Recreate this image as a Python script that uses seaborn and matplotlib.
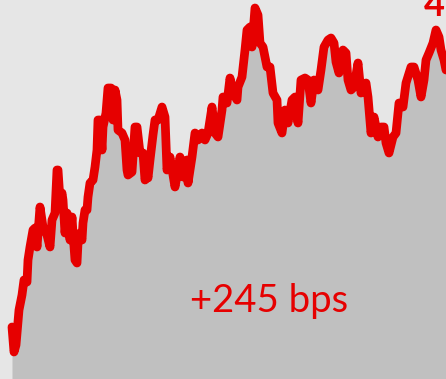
import numpy as np
import pandas as pd
import matplotlib
matplotlib.use("Agg")
import matplotlib.pyplot as plt
import seaborn as sns

# --- DATA ---
day = [12, 14, 16, 19, 22, 24, 27, 28, 30, 33, 35, 37, 40, 43, 47, 50, 52, 55, 57, 58,
       60, 62, 63, 65, 67, 68, 70, 72, 73, 75, 77, 78, 80, 82, 83, 85, 87, 88, 90, 93,
       95, 97, 98, 100, 102, 103, 106, 108, 111, 113, 115, 117, 118, 122, 125, 127, 128,
       132, 135, 137, 140, 143, 145, 147, 148, 150, 153, 155, 158, 162, 165, 167, 170,
       175, 178, 180, 183, 187, 188, 192, 195, 198, 202, 205, 208, 212, 215, 218, 222,
       223, 227, 230, 233, 237, 238, 242, 245, 247, 250, 252, 255, 258, 260, 263, 267,
       270, 273, 277, 278, 282, 285, 288, 292, 295, 296, 298, 301, 305, 308, 311, 314,
       318, 321, 324, 328, 331, 334, 336, 339, 343, 346, 348, 351, 354, 358, 361, 366,
       368, 371, 374, 378, 381, 384, 386, 389, 393, 396, 398, 399, 403, 406, 411, 414,
       418, 421, 424, 426, 429, 433, 436, 439, 441, 444, 446]
level_px = [327, 352, 345, 310, 295, 280, 282, 260, 247, 230, 228, 247, 207, 227, 235,
            247, 220, 213, 170, 170, 200, 193, 200, 233, 213, 217, 240, 217, 233, 260, 263,
            243, 233, 240, 223, 210, 210, 197, 183, 180, 167, 150, 120, 120, 150, 127, 113,
            88, 88, 120, 90, 100, 130, 133, 140, 170, 175, 172, 127, 127, 153, 153, 180,
            173, 178, 160, 135, 120, 120, 107, 117, 170, 157, 187, 170, 157, 177, 160, 183,
            157, 133, 140, 133, 140, 133, 107, 133, 137, 110, 97, 103, 78, 93, 100, 87, 77,
            50, 30, 27, 47, 8, 15, 43, 47, 67, 67, 93, 100, 123, 133, 110, 123, 100, 97,
            110, 123, 80, 78, 80, 103, 80, 90, 70, 47, 40, 38, 43, 62, 73, 50, 53, 80, 90,
            87, 63, 93, 83, 97, 133, 117, 137, 127, 127, 143, 153, 137, 133, 113, 103, 107,
            83, 67, 67, 80, 97, 80, 60, 53, 43, 30, 37, 50, 60, 70]
level = [379 - v for v in level_px]

LABEL = "+245 bps"
CORNER = "4"

BG = "#e6e6e6"
FILL = "#c0c0c0"
RED = "#e60000"

df = pd.DataFrame({"day": day, "level": level})

sns.set_style("white")
plt.rcParams["font.family"] = ["Lato", "DejaVu Sans"]

fig = plt.figure(figsize=(4.46, 3.79), dpi=100)
fig.patch.set_facecolor(BG)
ax = fig.add_axes([0, 0, 1, 1])
ax.set_facecolor(BG)

ax.fill_between(df["day"], df["level"], 0, color=FILL, linewidth=0, zorder=1)
sns.lineplot(data=df, x="day", y="level", ax=ax, color=RED, linewidth=6.3,
             solid_capstyle="round", solid_joinstyle="round", zorder=2)

# label; the corner figure is cut by the top edge as in the source
ax.text(269, 78, LABEL, color=RED, fontsize=27.5, ha="center", va="center", zorder=3)
ax.text(434, 373, CORNER, color=RED, fontsize=26, ha="center", va="center",
        fontweight="bold", zorder=3)

ax.set_xlim(0, 446)
ax.set_ylim(0, 379)
ax.axis("off")

fig.savefig("out.png", dpi=100, facecolor=BG)
